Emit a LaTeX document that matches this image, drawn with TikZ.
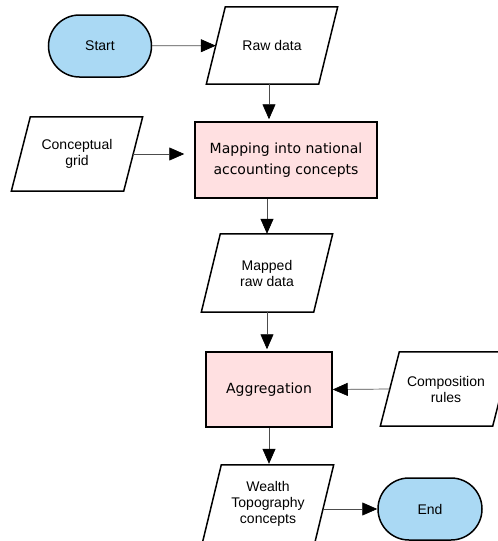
\documentclass[tikz,border=0pt]{standalone}
\usepackage{fontspec}
\setmainfont{Liberation Sans}
\newfontfamily\procfont{DejaVu Sans}
\usetikzlibrary{arrows.meta, shapes.misc}
\definecolor{termblue}{RGB}{170,217,244}
\definecolor{procpink}{RGB}{255,224,225}
\newcommand{\ioslant}{9.5pt}
\tikzset{terminal/.style={rounded rectangle, draw, line width=1.5pt, fill=termblue, minimum width=103, minimum height=62, inner sep=0pt, font=\fontsize{14}{16}\selectfont}}
\tikzset{iodata/.style={rectangle, minimum width=112, minimum height=78, inner sep=0pt, align=center, font=\fontsize{14}{16}\selectfont,
    append after command={\pgfextra{\draw[line width=1.5pt]
      ([xshift=\ioslant]\tikzlastnode.north west) -- ([xshift=\ioslant]\tikzlastnode.north east)
      -- ([xshift=-\ioslant]\tikzlastnode.south east) -- ([xshift=-\ioslant]\tikzlastnode.south west) -- cycle;}}}}
\tikzset{process/.style={rectangle, draw, line width=1.5pt, fill=procpink, inner sep=0pt, align=center, font=\procfont\fontsize{14}{21}\selectfont}}
\tikzset{flow/.style={-{Triangle[length=15pt, width=13pt, black]}, line width=0.7pt, draw=black!70}}

\begin{document}
\begin{tikzpicture}[x=1pt, y=-1pt]
  \useasboundingbox (0,0) rectangle (498,541);

  % --- top row ---
  \node[terminal] (start) at (100,46) {Start};
  \node[iodata, minimum height=77] (raw) at (272,45.5) {Raw data};

  % --- mapping step ---
  \node[iodata, minimum height=74] (cgrid) at (77,154) {Conceptual\\grid};
  \node[process, minimum width=182, minimum height=76] (map) at (286,160) {Mapping into national\\accounting concepts};
  \node[iodata] (mapped) at (267,273) {Mapped\\raw data};

  % --- aggregation step ---
  \node[process, minimum width=126, minimum height=75] (agg) at (269,389.5) {Aggregation};
  \node[iodata, minimum height=74] (comp) at (446,389) {Composition\\rules};
  \node[iodata] (wealth) at (268,504) {Wealth\\Topography\\concepts};
  \node[terminal, minimum width=104] (end) at (430,509) {End};

  % --- connectors ---
  \draw[flow] (start) -- (raw);
  \draw[flow, shorten >=2pt] ([xshift=-3pt]raw.south) -- ([xshift=-3pt]raw.south |- map.north);
  \draw[flow, shorten >=10pt] (cgrid.east) -- (cgrid.east -| map.west);
  \draw[flow] (mapped.north |- map.south) -- (mapped.north);
  \draw[flow, shorten >=2pt] (mapped.south) -- (mapped.south |- agg.north);
  \draw[flow] (comp.west) -- (agg.east);
  \draw[flow, shorten >=1pt] (agg.south) -- (agg.south |- wealth.north);
  \draw[flow] (end.west -| wealth.east) -- (end.west);

\end{tikzpicture}
\end{document}
